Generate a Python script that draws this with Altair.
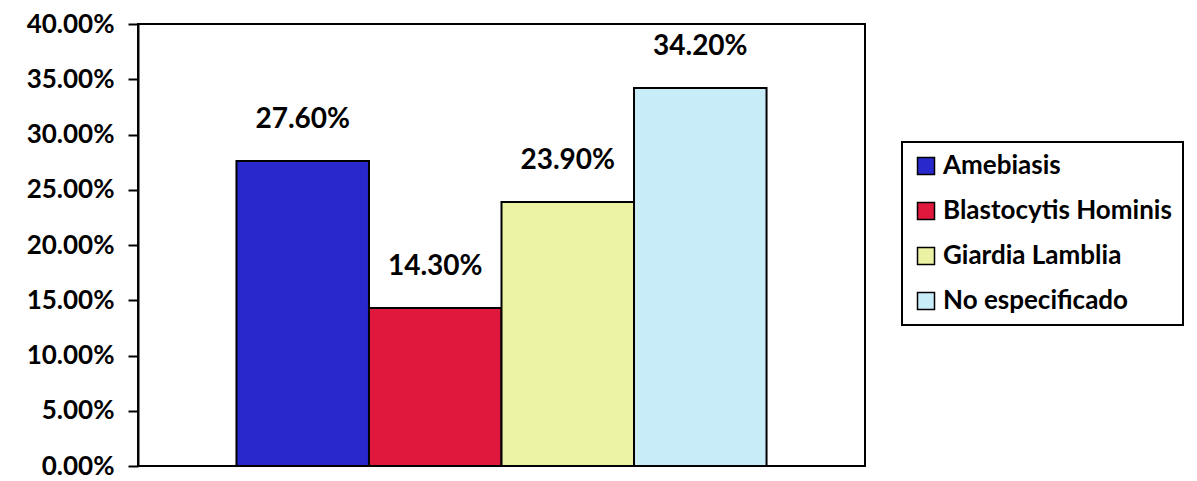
import altair as alt
import pandas as pd

categories = ["Amebiasis", "Blastocytis Hominis", "Giardia Lamblia", "No especificado"]
values = [0.276, 0.143, 0.239, 0.342]
colors = ["#2828cc", "#e0183e", "#ebf2a4", "#c9ecf9"]
y_ticks = [0.0, 0.05, 0.10, 0.15, 0.20, 0.25, 0.30, 0.35, 0.40]

df = pd.DataFrame({"cat": categories, "val": values})

FONT = "Lato"

x = alt.X("cat:N", sort=categories, axis=None,
          scale=alt.Scale(paddingInner=0, paddingOuter=0.743))
y = alt.Y("val:Q", scale=alt.Scale(domain=[0, 0.4], nice=False),
          axis=alt.Axis(values=y_ticks, format=".2%", title=None,
                        labelFont=FONT, labelFontSize=26, labelFontWeight="bold",
                        labelColor="black", tickColor="black", tickSize=10,
                        tickWidth=2, domainColor="black", domainWidth=2,
                        grid=False, labelPadding=14))

bars = alt.Chart(df).mark_bar(stroke="black", strokeWidth=2).encode(
    x=x, y=y,
    color=alt.Color("cat:N", sort=categories,
                    scale=alt.Scale(domain=categories, range=colors),
                    legend=alt.Legend(title=None, orient="none", legendX=764, legendY=118,
                                      strokeColor="black", padding=11,
                                      symbolType="square", symbolSize=289,
                                      symbolStrokeColor="black", symbolStrokeWidth=1.5,
                                      labelFont=FONT, labelFontSize=26,
                                      labelFontWeight="bold", labelColor="black",
                                      labelOffset=4, rowPadding=19, labelLimit=400))
)

text = alt.Chart(df).mark_text(dy=-41, baseline="middle", font=FONT, fontSize=28,
                               fontWeight="bold", color="black").encode(
    x=x, y=y, text=alt.Text("val:Q", format=".2%")
)

chart = (bars + text).properties(
    width=727, height=442,
    autosize=alt.AutoSizeParams(type="none"),
    padding={"left": 130, "top": 16, "right": 324, "bottom": 15},
).configure_view(stroke="black", strokeWidth=2).configure_legend(strokeWidth=2)

chart.save("out.html", embed_options={"renderer": "svg", "actions": False})
